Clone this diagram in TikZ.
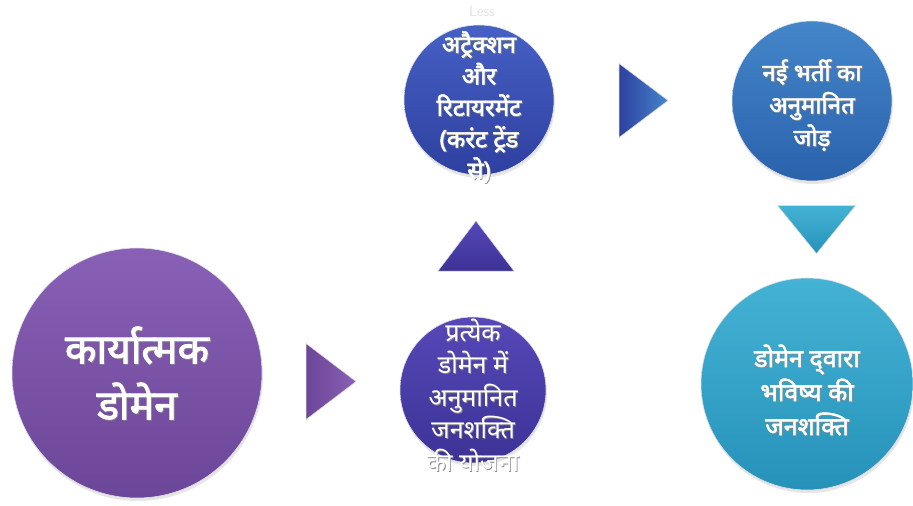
\documentclass[tikz,border=0pt]{standalone}
\usepackage{fontspec}
\newfontfamily\hindi[Script=Devanagari, BoldFont={Noto Sans}, BoldFeatures={FakeBold=2.2}]{Noto Sans}
\usetikzlibrary{calc,shadows}

\definecolor{funcA}{HTML}{8860B6}
\definecolor{funcB}{HTML}{6C4698}
\definecolor{planA}{HTML}{5648B8}
\definecolor{planB}{HTML}{3C3296}
\definecolor{attrA}{HTML}{4660C4}
\definecolor{attrB}{HTML}{2E40A0}
\definecolor{hireA}{HTML}{4486CA}
\definecolor{hireB}{HTML}{2A62AC}
\definecolor{futA}{HTML}{44B2D4}
\definecolor{futB}{HTML}{2692BA}

\tikzset{
	bub/.style={circle, draw=white!75!gray, line width=0.6pt, inner sep=0pt,
		drop shadow={opacity=0.2, shadow xshift=1pt, shadow yshift=-3pt}},
	txt/.style={text=white, align=center, inner sep=0pt,
		font=\hindi\bfseries\fontsize{24}{32}\selectfont},
	txtsh/.style={txt, text=black!45, xshift=0.8pt, yshift=-0.8pt},
	tri/.style={draw=white!70!gray, line width=0.5pt},
}

\begin{document}
\begin{tikzpicture}[x=1pt,y=-1pt]
	\useasboundingbox (0,0) rectangle (913,506);

	% Circles
	\node[bub, minimum size=250, top color=funcA, bottom color=funcB] (func) at (137,373) {}; %functional domain
	\node[bub, minimum size=146, top color=planA, bottom color=planB] (plan) at (473,390) {}; %plan per domain
	\node[bub, minimum size=150, top color=attrA, bottom color=attrB] (attr) at (479,100) {}; %attrition
	\node[bub, minimum size=160, top color=hireA, bottom color=hireB] (hire) at (812,101) {}; %new hires
	\node[bub, minimum size=212, top color=futA, bottom color=futB] (fut) at (807,384) {}; %future manpower

	% Text shadows
	\node[txtsh, font=\hindi\bfseries\fontsize{41}{56}\selectfont] (funcS) at (func) {कार्यात्मक\\डोमेन};
	\node[txtsh, font=\hindi\fontsize{25}{32.5}\selectfont] (planS) at ([yshift=-5]plan) {प्रत्येक\\डोमेन में\\अनुमानित\\जनशक्ति\\की योजना};
	\node[txtsh, font=\hindi\bfseries\fontsize{24}{31.5}\selectfont] (attrS) at ([yshift=-7]attr) {अट्रैक्शन\\और\\रिटायरमेंट\\(करंट ट्रेंड\\से)};
	\node[txtsh, font=\hindi\bfseries\fontsize{24}{32.5}\selectfont] (hireS) at ([yshift=-4]hire) {नई भर्ती का\\अनुमानित\\जोड़};
	\node[txtsh, font=\hindi\bfseries\fontsize{25}{34}\selectfont] (futS) at ([yshift=-6]fut) {डोमेन द्^^^^200cवारा\\भविष्य की\\जनशक्ति};

	% Texts
	\node[txt, font=\hindi\bfseries\fontsize{41}{56}\selectfont] (funcT) at (func) {कार्यात्मक\\डोमेन};
	\node[txt, font=\hindi\fontsize{25}{32.5}\selectfont] (planT) at ([yshift=-5]plan) {प्रत्येक\\डोमेन में\\अनुमानित\\जनशक्ति\\की योजना};
	\node[txt, font=\hindi\bfseries\fontsize{24}{31.5}\selectfont] (attrT) at ([yshift=-7]attr) {अट्रैक्शन\\और\\रिटायरमेंट\\(करंट ट्रेंड\\से)};
	\node[txt, font=\hindi\bfseries\fontsize{24}{32.5}\selectfont] (hireT) at ([yshift=-4]hire) {नई भर्ती का\\अनुमानित\\जोड़};
	\node[txt, font=\hindi\bfseries\fontsize{25}{34}\selectfont] (futT) at ([yshift=-6]fut) {डोमेन द्^^^^200cवारा\\भविष्य की\\जनशक्ति};
	\node[text=gray!22, font=\sffamily\fontsize{15}{15}\selectfont] (less) at (482,11) {Less};

	% Arrows
	\coordinate (a1) at ($(func.east)!.5!(plan.west)$);
	\coordinate (a2) at ($(plan.north)!.5!(attr.south)$);
	\coordinate (a3) at ($(attr.east)!.5!(hire.west)$);
	\coordinate (a4) at ([xshift=7]$(hire.south)!.5!(fut.north)$);

	\shade[tri, left color=funcB, right color=funcA] ($(a1)+(-25,-38)$) -- ($(a1)+(25,0)$) -- ($(a1)+(-25,38)$) -- cycle;
	\shade[tri, top color=planA, bottom color=planB] ($(a2)+(-38,25)$) -- ($(a2)+(0,-25)$) -- ($(a2)+(38,25)$) -- cycle;
	\shade[tri, left color=attrB, right color=hireA] ($(a3)+(-24,-37)$) -- ($(a3)+(25,0)$) -- ($(a3)+(-24,37)$) -- cycle;
	\shade[tri, top color=futA, bottom color=futB] ($(a4)+(-39,-24)$) -- ($(a4)+(39,-24)$) -- ($(a4)+(0,24)$) -- cycle;
\end{tikzpicture}
\end{document}
